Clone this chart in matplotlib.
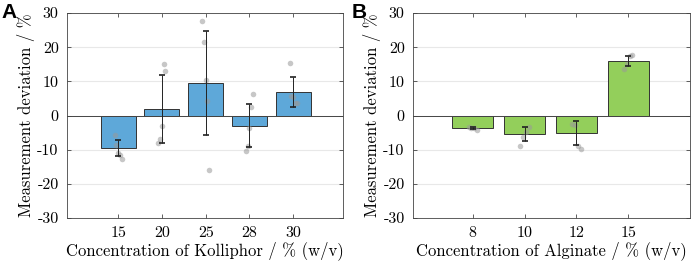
import numpy as np
import matplotlib
matplotlib.use("Agg")
import matplotlib.pyplot as plt

plt.rcParams['font.family'] = 'cmr10'
plt.rcParams['axes.unicode_minus'] = False
plt.rcParams['mathtext.fontset'] = 'cm'

# panel A - Kolliphor
kol_conc = ['15', '20', '25', '28', '30']
kol_mean = [-9.6, 2.0, 9.5, -3.0, 6.8]
kol_err = [2.3, 10.0, 15.2, 6.3, 4.4]
kol_pts = [
    [-5.8, -8.5, -11.0, -11.5, -12.8],
    [12.9, 15.1, -3.0, -7.0, -8.0],
    [27.7, 21.6, 10.3, 4.2, -15.9],
    [6.2, 2.4, -3.7, -9.0, -10.5],
    [15.3, 5.7, 5.4, 3.8, 3.8],
]

# panel B - Alginate
alg_conc = ['8', '10', '12', '15']
alg_mean = [-3.6, -5.5, -5.2, 16.0]
alg_err = [0.3, 2.1, 3.45, 1.55]
alg_pts = [
    [-3.4, -3.6, -3.8, -4.2],
    [-3.5, -4.9, -6.2, -8.9],
    [-2.5, -2.8, -8.8, -9.8],
    [17.6, 17.4, 15.1, 13.5],
]

blue = '#5ea8d9'
green = '#93cf5b'

fig = plt.figure(figsize=(6.99, 2.64), dpi=100)
ax1 = fig.add_axes([67/699, 1-218/264, 276/699, 205/264])
ax2 = fig.add_axes([413/699, 1-218/264, 277/699, 205/264])


def panel(ax, cats, means, errs, pts, color, xlabel, xlim):
    x = np.arange(1, len(cats)+1)
    ax.set_axisbelow(True)
    ax.yaxis.grid(True, color='#e8e8e8', lw=0.8)
    ax.bar(x, means, width=0.8, color=color, edgecolor='#333333', lw=0.7, zorder=2)
    ax.axhline(0, color='#444444', lw=0.7, zorder=3)
    for i, p in enumerate(pts):
        jit = np.linspace(-0.08, 0.08, len(p))[::-1] * (1 if i % 2 else -1)
        ax.scatter(x[i] + jit, p, s=16, color='#999999', alpha=0.55, lw=0, zorder=4)
    ax.errorbar(x, means, yerr=errs, fmt='none', ecolor='#222222', elinewidth=0.7,
                capsize=2.5, capthick=1.2, zorder=5)
    ax.set_xlim(*xlim)
    ax.set_ylim(-30, 30)
    ax.set_yticks(np.arange(-30, 31, 10))
    ax.set_xticks(x)
    ax.set_xticklabels(cats)
    ax.tick_params(direction='in', top=True, right=True, length=3, width=0.6,
                   color='#444444', labelsize=11.5, pad=6)
    for s in ax.spines.values():
        s.set_color('#444444')
        s.set_linewidth(0.6)
    ax.set_xlabel(xlabel, fontsize=12, labelpad=1)
    ax.set_ylabel('Measurement deviation / %', fontsize=12, labelpad=2)


panel(ax1, kol_conc, kol_mean, kol_err, kol_pts, blue,
      'Concentration of Kolliphor / % (w/v)', (-0.17, 6.14))
panel(ax2, alg_conc, alg_mean, alg_err, alg_pts, green,
      'Concentration of Alginate / % (w/v)', (-0.15, 5.19))

fig.text(0.002, 0.99, 'A', fontsize=15, fontweight='bold', family='Liberation Sans', va='top')
fig.text(352/699, 0.99, 'B', fontsize=15, fontweight='bold', family='Liberation Sans', va='top')

fig.savefig('out.png', dpi=100)
